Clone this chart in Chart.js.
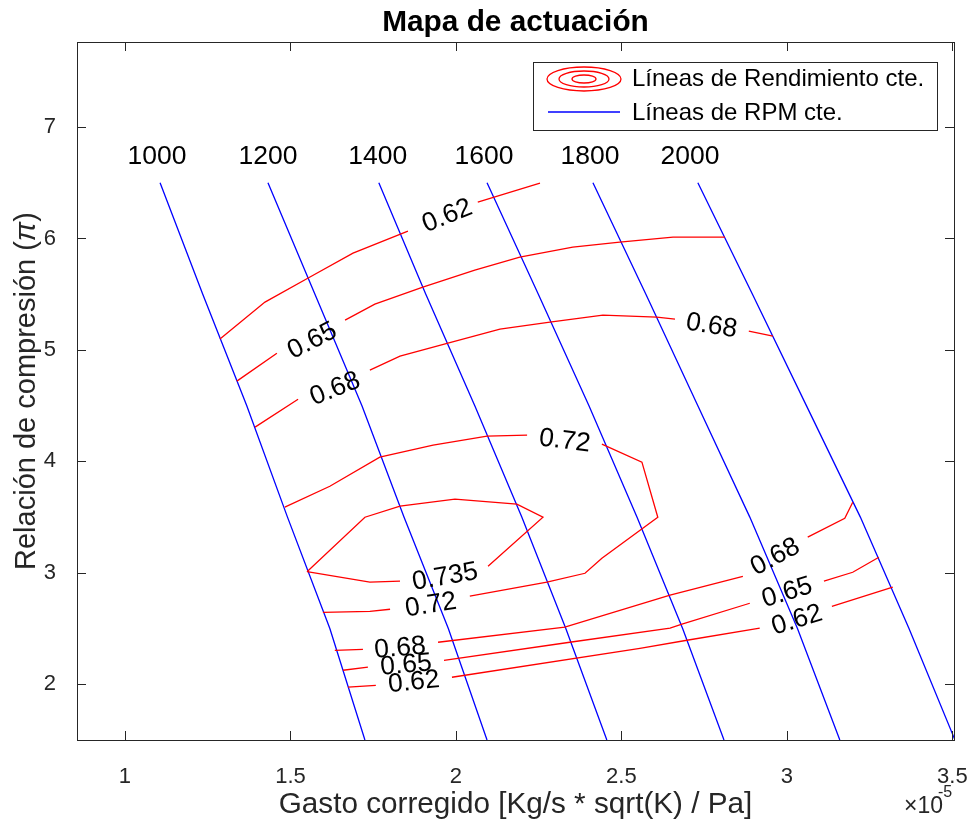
<!DOCTYPE html>
<html>
<head>
<meta charset="utf-8">
<script src="https://cdn.jsdelivr.net/npm/chart.js@4.4.0/dist/chart.umd.min.js"></script>
<style>
  html, body { margin: 0; padding: 0; background: #fff; }
</style>
</head>
<body>
<canvas id="mapa" width="976" height="827"></canvas>
<script>
/* Mapa de actuación — compressor map (x in units of 1e-5) */

var xTickVals = [1, 1.5, 2, 2.5, 3, 3.5];
var yTickVals = [2, 3, 4, 5, 6, 7];

/* constant RPM lines, x read at these pressure ratios */
var rpmNames = ['1000', '1200', '1400', '1600', '1800', '2000'];
var rpmPi = [6.5, 5.5, 4.5, 3.5, 2.5, 1.5];
var rpm1000 = [1.106, 1.235, 1.368, 1.491, 1.619, 1.725];
var rpm1200 = [1.432, 1.574, 1.716, 1.843, 1.977, 2.094];
var rpm1400 = [1.767, 1.909, 2.057, 2.199, 2.332, 2.456];
var rpm1600 = [2.094, 2.249, 2.402, 2.547, 2.685, 2.810];
var rpm1800 = [2.414, 2.574, 2.731, 2.888, 3.032, 3.160];
var rpm2000 = [2.731, 2.896, 3.059, 3.222, 3.369, 3.508];
var rpmLabelX = [1.097, 1.432, 1.764, 2.085, 2.405, 2.707];
var rpmLabelPi = 6.73;

/* constant efficiency contours, null = break for the inline label */
var eta062top = [[1.287, 5.097], [1.423, 5.429], [1.559, 5.654], [1.689, 5.869], [1.855, 6.066], null, [2.066, 6.327], [2.254, 6.497]];
var eta065top = [[1.338, 4.720], [1.459, 4.971], null, [1.665, 5.268], [1.755, 5.411], [1.900, 5.564], [2.057, 5.716], [2.193, 5.833], [2.353, 5.923], [2.495, 5.968], [2.656, 6.013], [2.813, 6.013]];
var eta068top = [[1.393, 4.307], [1.523, 4.558], null, [1.740, 4.819], [1.831, 4.944], [1.976, 5.061], [2.133, 5.187], [2.284, 5.250], [2.444, 5.312], [2.607, 5.294], [2.662, 5.276], null, [2.885, 5.169], [2.958, 5.124]];
var eta072 = [[1.483, 3.589], [1.619, 3.777], [1.770, 4.038], [1.931, 4.145], [2.094, 4.226], [2.215, 4.235], null, [2.441, 4.154], [2.562, 3.993], [2.610, 3.499], [2.441, 3.131], [2.390, 2.996], [2.275, 2.916], [2.042, 2.790], null, [1.801, 2.673], [1.740, 2.655], [1.598, 2.646]];
var eta0735 = [[1.550, 3.010], [1.725, 3.499], [1.831, 3.598], [1.997, 3.661], [2.184, 3.616], [2.263, 3.499], [2.097, 3.059], null, [1.831, 2.925], [1.740, 2.916], [1.550, 3.010]];
var eta068low = [[1.634, 2.305], [1.719, 2.314], null, [1.946, 2.377], [2.329, 2.512], [2.647, 2.799], [2.867, 2.969], null, [3.063, 3.320], [3.175, 3.490], [3.199, 3.634]];
var eta065low = [[1.659, 2.126], [1.734, 2.153], null, [1.964, 2.215], [2.344, 2.377], [2.647, 2.503], [2.683, 2.539], [2.888, 2.727], null, [3.112, 2.925], [3.199, 3.005], [3.278, 3.140]];
var eta062low = [[1.674, 1.974], [1.758, 1.991], null, [1.988, 2.063], [2.556, 2.323], [2.698, 2.395], [2.918, 2.503], null, [3.136, 2.700], [3.320, 2.871]];

/* contour labels */
var etaLabelText = ['0.62', '0.65', '0.68', '0.72', '0.68', '0.735', '0.72', '0.68', '0.65', '0.62', '0.68', '0.65', '0.62'];
var etaLabelX = [1.973, 1.565, 1.634, 2.329, 2.773, 1.967, 1.924, 1.831, 1.849, 1.873, 2.964, 3.000, 3.030];
var etaLabelY = [6.210, 5.088, 4.657, 4.190, 5.223, 2.970, 2.718, 2.332, 2.180, 2.027, 3.149, 2.830, 2.583];
var etaLabelAngle = [-22, -27, -22, 7, 9, -10, -9, -5, -5, -6, -28, -17, -17];

var FONT = '"Liberation Sans", Arial, Helvetica, sans-serif';
var RED = '#ff0000', BLUE = '#0000ff', AXIS = '#262626';

function toPoints(arr) {
  return arr.map(function (p) { return p ? { x: p[0], y: p[1] } : { x: null, y: null }; });
}
function rpmPoints(xs) {
  return xs.map(function (x, i) { return { x: x, y: rpmPi[i] }; });
}

var datasets = [];
[eta062top, eta065top, eta068top, eta072, eta0735, eta068low, eta065low, eta062low].forEach(function (c) {
  datasets.push({ data: toPoints(c), borderColor: RED, borderWidth: 1.3, showLine: true, pointRadius: 0, spanGaps: false, tension: 0 });
});
[rpm1000, rpm1200, rpm1400, rpm1600, rpm1800, rpm2000].forEach(function (r) {
  datasets.push({ data: rpmPoints(r), borderColor: BLUE, borderWidth: 1.3, showLine: true, pointRadius: 0, tension: 0 });
});

/* MATLAB-ish frame, inline labels, legend and title */
var matlabFrame = {
  id: 'matlabFrame',
  afterDatasetsDraw: function (chart) {
    var ctx = chart.ctx, a = chart.chartArea;
    var sx = chart.scales.x, sy = chart.scales.y;
    ctx.save();

    /* contour labels */
    ctx.fillStyle = '#000';
    ctx.textAlign = 'center';
    ctx.textBaseline = 'middle';
    ctx.font = '26.5px ' + FONT;
    etaLabelText.forEach(function (t, i) {
      ctx.save();
      ctx.translate(sx.getPixelForValue(etaLabelX[i]), sy.getPixelForValue(etaLabelY[i]));
      ctx.rotate(etaLabelAngle[i] * Math.PI / 180);
      ctx.fillText(t, 0, 1);
      ctx.restore();
    });

    /* rpm labels */
    ctx.font = '26.5px ' + FONT;
    rpmNames.forEach(function (t, i) {
      ctx.fillText(t, sx.getPixelForValue(rpmLabelX[i]), sy.getPixelForValue(rpmLabelPi));
    });

    /* box + inward ticks */
    ctx.strokeStyle = AXIS;
    ctx.lineWidth = 1;
    ctx.strokeRect(Math.round(a.left) + 0.5, Math.round(a.top) + 0.5, Math.round(a.right - a.left), Math.round(a.bottom - a.top));
    ctx.beginPath();
    xTickVals.forEach(function (v) {
      var px = Math.round(sx.getPixelForValue(v)) + 0.5;
      ctx.moveTo(px, a.bottom); ctx.lineTo(px, a.bottom - 9);
      ctx.moveTo(px, a.top); ctx.lineTo(px, a.top + 9);
    });
    yTickVals.forEach(function (v) {
      var py = Math.round(sy.getPixelForValue(v)) + 0.5;
      ctx.moveTo(a.left, py); ctx.lineTo(a.left + 9, py);
      ctx.moveTo(a.right, py); ctx.lineTo(a.right - 9, py);
    });
    ctx.stroke();

    /* legend */
    var lx = 533.5, ly = 62.5, lw = 404, lh = 68;
    ctx.fillStyle = '#fff';
    ctx.fillRect(lx, ly, lw, lh);
    ctx.strokeRect(lx, ly, lw, lh);
    ctx.strokeStyle = RED;
    ctx.lineWidth = 1.3;
    [[37, 12], [25, 8], [12, 4]].forEach(function (r) {
      ctx.beginPath();
      ctx.ellipse(584, 79, r[0], r[1], 0, 0, Math.PI * 2);
      ctx.stroke();
    });
    ctx.strokeStyle = BLUE;
    ctx.beginPath();
    ctx.moveTo(548, 112); ctx.lineTo(620, 112);
    ctx.stroke();
    ctx.fillStyle = '#000';
    ctx.textAlign = 'left';
    ctx.font = '24px ' + FONT;
    ctx.fillText('Líneas de Rendimiento cte.', 632, 79);
    ctx.fillText('Líneas de RPM cte.', 632, 113);

    /* exponent */
    ctx.fillStyle = AXIS;
    ctx.font = '23px ' + FONT;
    ctx.fillText('\u00d710', 904, 807);
    ctx.font = '16px ' + FONT;
    ctx.fillText('-5', 938, 793);

    /* title */
    ctx.fillStyle = '#000';
    ctx.textAlign = 'center';
    ctx.font = 'bold 29.8px ' + FONT;
    ctx.fillText('Mapa de actuación', (a.left + a.right) / 2, 23);

    /* y label with italic pi */
    ctx.save();
    ctx.translate(27, (a.top + a.bottom) / 2);
    ctx.rotate(-Math.PI / 2);
    ctx.fillStyle = AXIS;
    var p1 = 'Relación de compresión (', p3 = ')';
    ctx.font = 'italic 29px ' + FONT;
    var w2 = ctx.measureText('\u03c0').width;
    ctx.font = '29px ' + FONT;
    var w1 = ctx.measureText(p1).width, w3 = ctx.measureText(p3).width;
    var x0 = -(w1 + w2 + w3) / 2;
    ctx.textAlign = 'left';
    ctx.fillText(p1, x0, 0);
    ctx.fillText(p3, x0 + w1 + w2, 0);
    ctx.font = 'italic 29px ' + FONT;
    ctx.fillText('\u03c0', x0 + w1, 0);
    ctx.restore();

    ctx.restore();
  }
};

new Chart(document.getElementById('mapa'), {
  type: 'scatter',
  data: { datasets: datasets },
  options: {
    responsive: false,
    animation: false,
    devicePixelRatio: 1,
    layout: { padding: { top: 42, right: 22, left: 0, bottom: 0 } },
    plugins: { legend: { display: false }, tooltip: { enabled: false }, title: { display: false } },
    scales: {
      x: {
        type: 'linear', min: 0.855, max: 3.505,
        afterBuildTicks: function (s) { s.ticks = xTickVals.map(function (v) { return { value: v }; }); },
        afterFit: function (s) { s.height = 87; s.paddingLeft = 0; s.paddingRight = 0; },
        grid: { display: false },
        border: { display: false },
        ticks: { color: AXIS, font: { family: FONT, size: 22 }, padding: 16, maxRotation: 0, callback: function (v) { return String(v); } },
        title: { display: true, text: 'Gasto corregido [Kg/s * sqrt(K) / Pa]', color: AXIS, font: { family: FONT, size: 29.7 }, padding: { top: 0, bottom: 4 } }
      },
      y: {
        type: 'linear', min: 1.5, max: 7.763,
        afterBuildTicks: function (s) { s.ticks = yTickVals.map(function (v) { return { value: v }; }); },
        afterFit: function (s) { s.width = 77; s.paddingTop = 0; s.paddingBottom = 0; },
        grid: { display: false },
        border: { display: false },
        ticks: { color: AXIS, font: { family: FONT, size: 22 }, padding: 13, callback: function (v) { return String(v); } }
      }
    }
  },
  plugins: [matlabFrame]
});
</script>
</body>
</html>
